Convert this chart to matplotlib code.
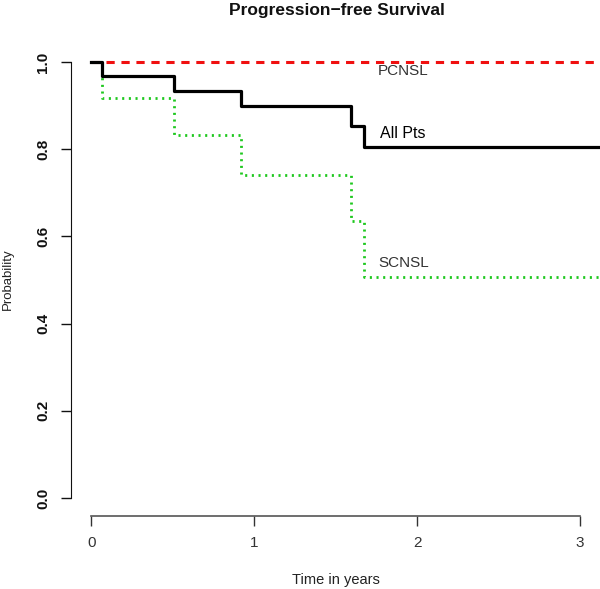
import matplotlib
matplotlib.use('Agg')
import matplotlib.pyplot as plt

# Kaplan-Meier style step data
time_all = [0, 0.065, 0.505, 0.92, 1.595, 1.677, 3.13]
surv_all = [1.0, 0.967, 0.933, 0.900, 0.853, 0.806, 0.806]

time_scnsl = [0, 0.065, 0.505, 0.92, 1.595, 1.677, 3.13]
surv_scnsl = [1.0, 0.917, 0.833, 0.741, 0.635, 0.508, 0.508]

time_pcnsl = [0, 3.13]
surv_pcnsl = [1.0, 1.0]

xticks = [0, 1, 2, 3]
yticks = [0.0, 0.2, 0.4, 0.6, 0.8, 1.0]
ytick_labels = ['0.0', '0.2', '0.4', '0.6', '0.8', '1.0']

labels = ['PCNSL', 'All Pts', 'SCNSL']
label_x = [1.76, 1.77, 1.76]
label_y = [0.98, 0.835, 0.54]

plt.rcParams['font.family'] = ['Liberation Sans', 'DejaVu Sans']

W, H = 600, 589
fig = plt.figure(figsize=(W / 100, H / 100), dpi=100)
# plot region in pixels: left 71, right 601, top 44.5, bottom 515.5
ax = fig.add_axes([71 / W, (H - 515.5) / H, (601 - 71) / W, (515.5 - 44.5) / H])

ax.step(time_scnsl, surv_scnsl, where='post', color='#1ec81e', lw=2.0,
        linestyle=(0, (0.75, 1.65)), dash_capstyle='butt', clip_on=False)
ax.step(time_pcnsl, surv_pcnsl, where='post', color='#f01010', lw=2.2,
        linestyle=(0, (2.7, 2.2)), dash_capstyle='butt', clip_on=False)
ax.step(time_all, surv_all, where='post', color='black', lw=2.3, clip_on=False)

for txt, x, y in zip(labels, label_x, label_y):
    ax.text(x, y, txt, fontsize=11.5 if txt == 'All Pts' else 11,
            color='black' if txt == 'All Pts' else '#333333',
            ha='left', va='center')

ax.set_xlim(-0.125, 3.13)
ax.set_ylim(-0.04, 1.04)

for s in ['top', 'right']:
    ax.spines[s].set_visible(False)
ax.spines['left'].set_bounds(0, 1)
ax.spines['left'].set_color('#111111')
ax.spines['bottom'].set_bounds(0, 3)
ax.spines['bottom'].set_color('#555555')
ax.spines['bottom'].set_linewidth(1.2)

ax.set_xticks(xticks)
ax.set_xticklabels([str(t) for t in xticks])
ax.set_yticks(yticks)
ax.set_yticklabels(ytick_labels, rotation=90, va='center', fontweight='bold')
ax.tick_params(axis='x', length=7, width=1, color='#333333', pad=8,
               labelsize=11, labelcolor='#333333')
ax.tick_params(axis='y', length=7, width=1, color='#111111', pad=8,
               labelsize=11, labelcolor='#111111')

fig.text(337 / W, 1 - 10 / H, 'Progression\u2212free Survival', ha='center',
         va='center', fontsize=12.5, fontweight='bold', color='#111111')
fig.text(336 / W, 1 - 580 / H, 'Time in years', ha='center', va='center',
         fontsize=10.5, color='#222222')
fig.text(8 / W, 1 - 279 / H, 'Probability', ha='center', va='center',
         rotation=90, fontsize=9.5, color='#222222')

fig.savefig('out.png', dpi=100)
